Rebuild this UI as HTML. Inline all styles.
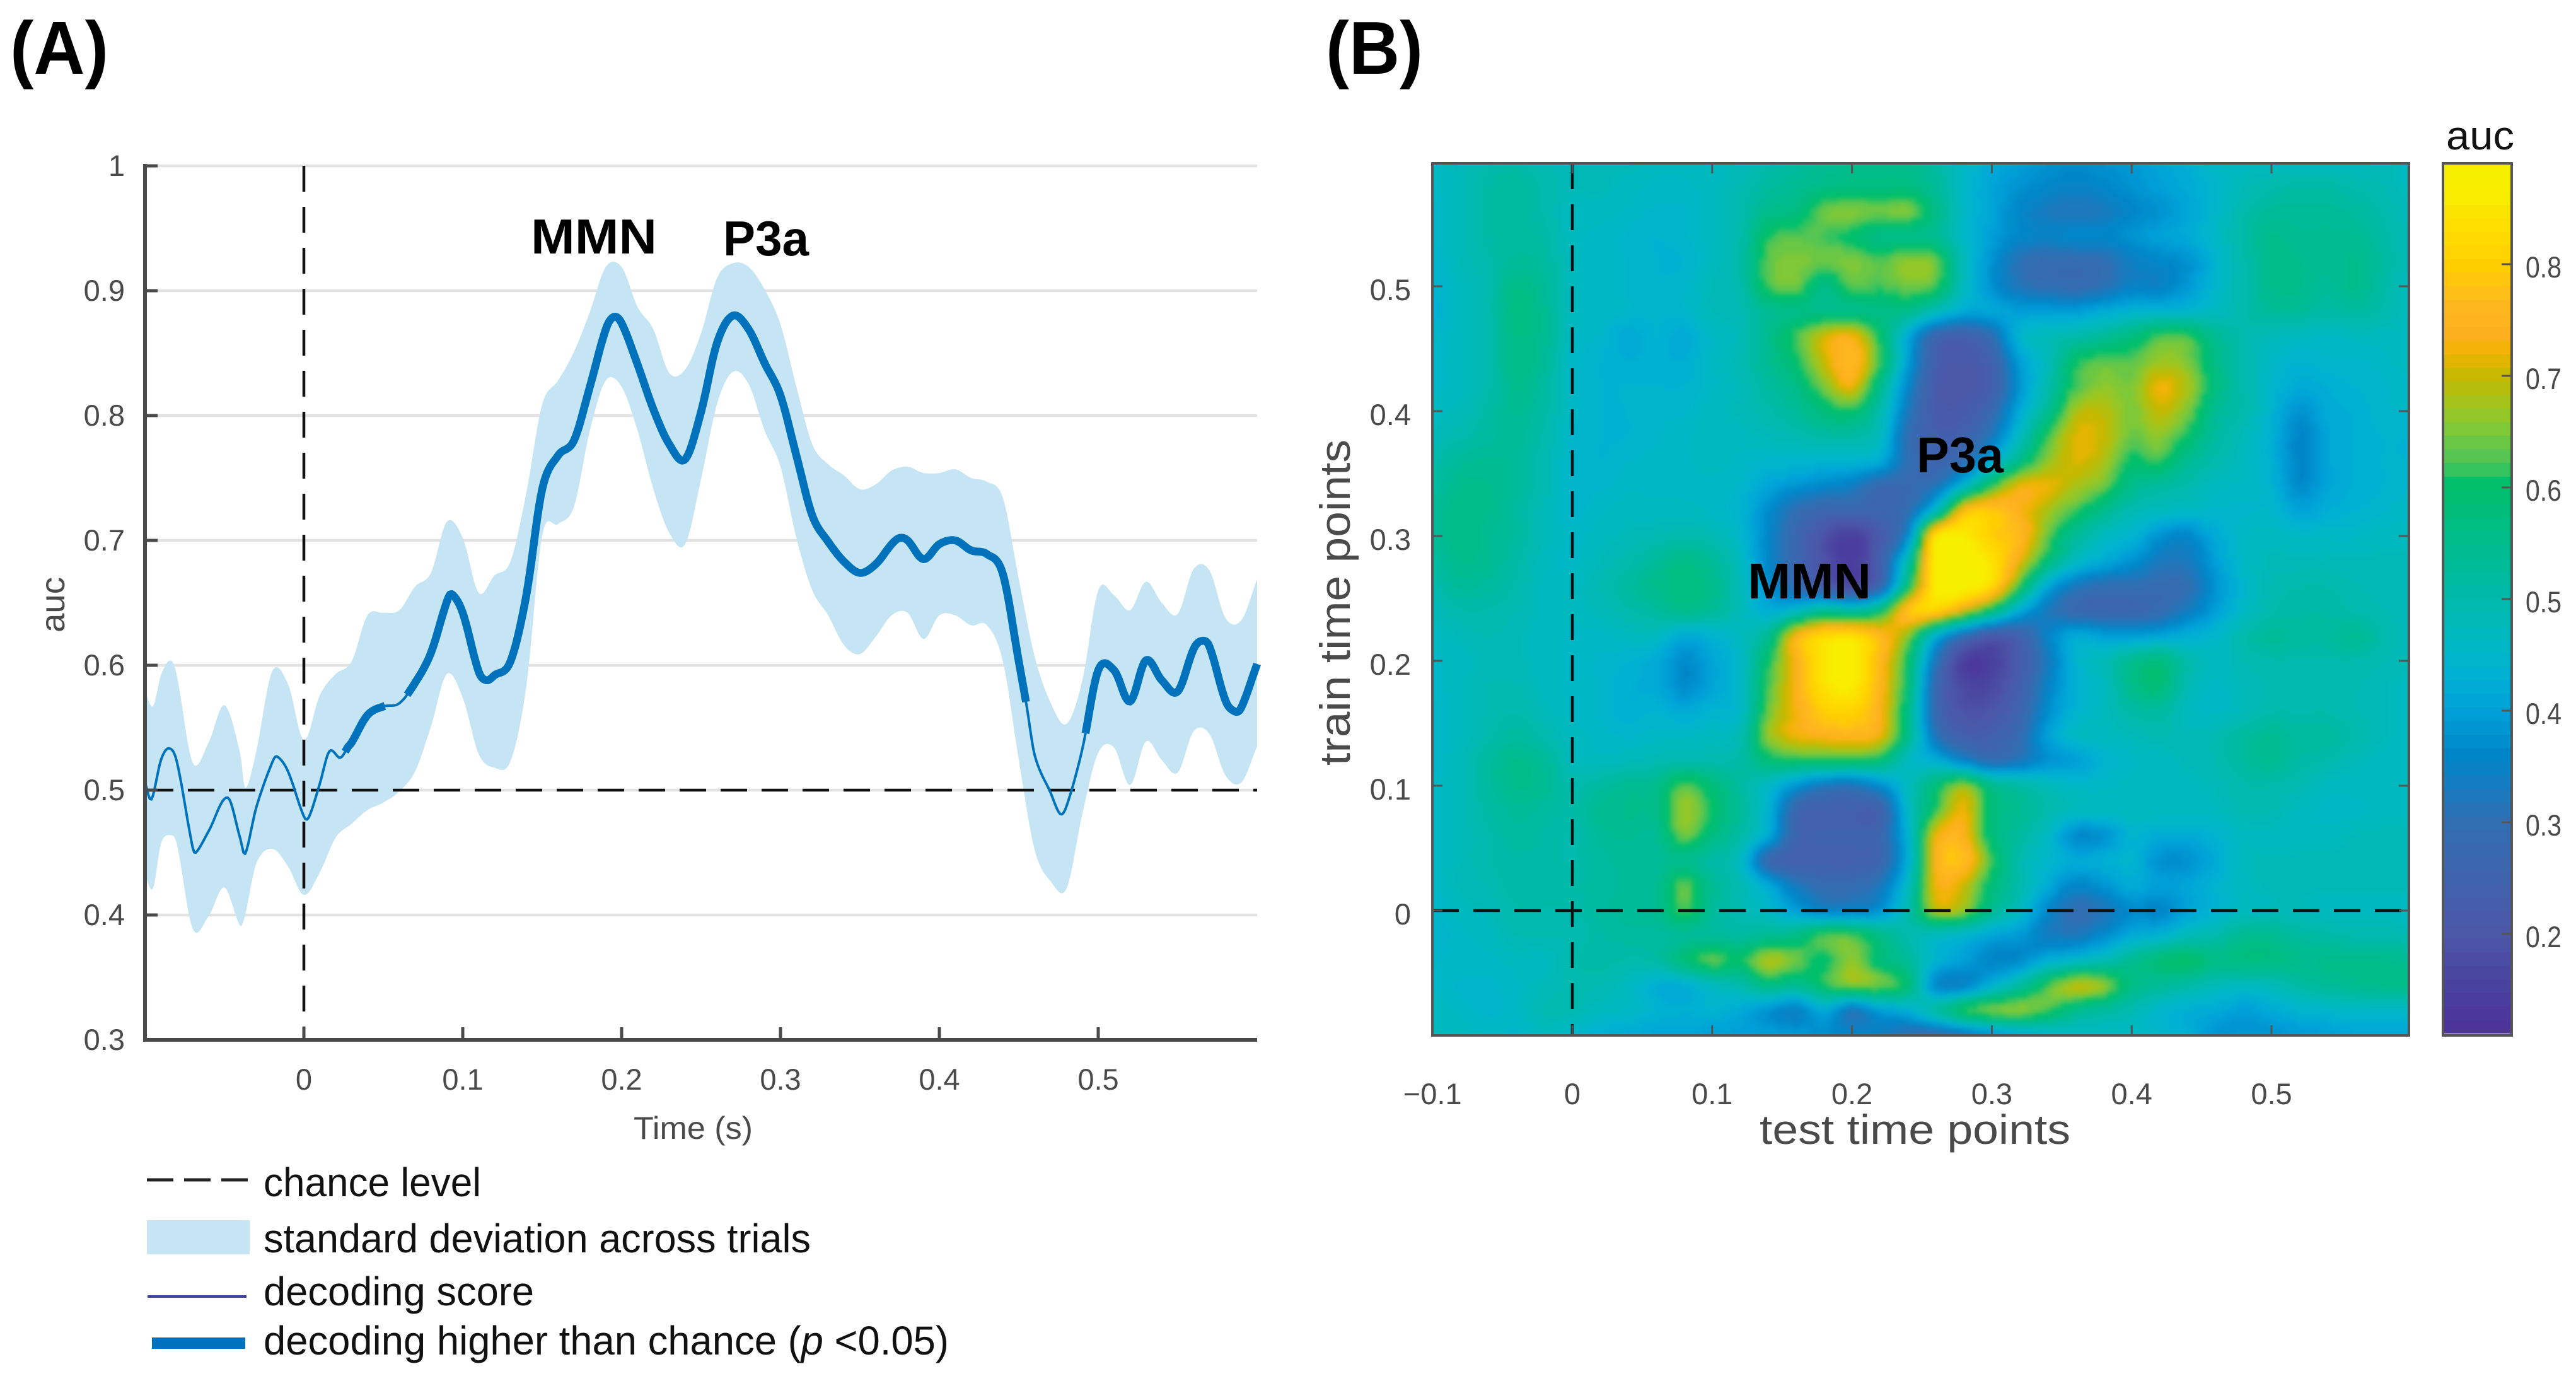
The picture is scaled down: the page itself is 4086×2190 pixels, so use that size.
<!DOCTYPE html>
<html lang="en">
<head>
<meta charset="utf-8">
<title>Decoding score and temporal generalization</title>
<style>
html,body{margin:0;padding:0;background:#fff}
svg{display:block}
text{font-family:"Liberation Sans",sans-serif}
.tk{font-size:47px;fill:#4a4a4a}
.lg{font-size:64px;fill:#111}
.bd{font-weight:700;fill:#000}
</style>
</head>
<body>
<svg id="fig" xmlns="http://www.w3.org/2000/svg" width="4086" height="2190" viewBox="0 0 4086 2190">
<defs>
<clipPath id="hmclip"><rect x="2272" y="259" width="1549" height="1383"/></clipPath>
<filter id="soft" x="2200" y="190" width="1700" height="1530" filterUnits="userSpaceOnUse" color-interpolation-filters="sRGB"><feGaussianBlur stdDeviation="4"/></filter>
</defs>
<rect x="0" y="0" width="4086" height="2190" fill="#fff"/>
<text class="bd" x="16" y="117" font-size="119" textLength="156" lengthAdjust="spacingAndGlyphs">(A)</text>
<text class="bd" x="2103" y="117" font-size="119" textLength="154" lengthAdjust="spacingAndGlyphs">(B)</text>

<g id="panelA">
<g id="gridA"></g>
<path id="band" fill="#c5e5f4"/>
<line id="chanceH" stroke="#111" stroke-width="4.5" stroke-dasharray="42 23"/>
<path id="thin" fill="none" stroke="#0072bc" stroke-width="4" stroke-linejoin="round"/>
<g id="thick"></g>
<line id="onsetA" stroke="#111" stroke-width="4.5" stroke-dasharray="41 24"/>
<g id="axesA"></g>
<text transform="translate(102,1003) rotate(-90)" font-size="54" fill="#4a4a4a" textLength="88" lengthAdjust="spacingAndGlyphs">auc</text>
<text x="1005" y="1806" font-size="50" fill="#4a4a4a" textLength="189" lengthAdjust="spacingAndGlyphs">Time (s)</text>
<text class="bd" x="842" y="402" font-size="78" textLength="200" lengthAdjust="spacingAndGlyphs">MMN</text>
<text class="bd" x="1147" y="405" font-size="78" textLength="136" lengthAdjust="spacingAndGlyphs">P3a</text>
</g>

<g>
<line x1="233" y1="1871" x2="393" y2="1871" stroke="#222" stroke-width="5" stroke-dasharray="42 17"/>
<text class="lg" x="418" y="1897" textLength="345" lengthAdjust="spacingAndGlyphs">chance level</text>
<rect x="233" y="1935" width="163" height="54" fill="#c5e5f4"/>
<text class="lg" x="418" y="1986" textLength="868" lengthAdjust="spacingAndGlyphs">standard deviation across trials</text>
<rect x="234" y="2054" width="157" height="4" fill="#3b3f9e"/>
<text class="lg" x="418" y="2070" textLength="429" lengthAdjust="spacingAndGlyphs">decoding score</text>
<rect x="241" y="2121" width="148" height="18" fill="#0072bc"/>
<text class="lg" x="418" y="2148" textLength="1087" lengthAdjust="spacingAndGlyphs">decoding higher than chance (<tspan font-style="italic">p</tspan> &lt;0.05)</text>
</g>

<g id="panelB">
<g clip-path="url(#hmclip)"><g id="cells" filter="url(#soft)" shape-rendering="crispEdges"></g></g>
<line id="onsetH" stroke="#111" stroke-width="4.5" stroke-dasharray="41 24"/>
<line id="onsetV" stroke="#111" stroke-width="4.5" stroke-dasharray="42 23"/>
<rect x="2272" y="259" width="1549" height="1383" fill="none" stroke="#555" stroke-width="4"/>
<g id="axesB"></g>
<text x="2791" y="1814" font-size="66" fill="#4a4a4a" textLength="493" lengthAdjust="spacingAndGlyphs">test time points</text>
<text transform="translate(2141,1214) rotate(-90)" font-size="68" fill="#4a4a4a" textLength="517" lengthAdjust="spacingAndGlyphs">train time points</text>
<text class="bd" x="2772" y="949" font-size="80" textLength="196" lengthAdjust="spacingAndGlyphs">MMN</text>
<text class="bd" x="3040" y="749" font-size="80" textLength="138" lengthAdjust="spacingAndGlyphs">P3a</text>
<g id="cbar" shape-rendering="crispEdges"></g>
<rect x="3875" y="259" width="109" height="1383" fill="none" stroke="#555" stroke-width="4"/>
<g id="cbarTicks"></g>
<text x="3880" y="237" font-size="64" fill="#111" textLength="108" lengthAdjust="spacingAndGlyphs">auc</text>
</g>
</svg>

<script>
// ---------- Panel A data ----------
const yTicksA = [0.3, 0.4, 0.5, 0.6, 0.7, 0.8, 0.9, 1];
const yTickLabelsA = ['0.3', '0.4', '0.5', '0.6', '0.7', '0.8', '0.9', '1'];
const xTicksA = [0, 0.1, 0.2, 0.3, 0.4, 0.5];
const xTickLabelsA = ['0', '0.1', '0.2', '0.3', '0.4', '0.5'];
const scoreTimes = [-0.1,-0.096,-0.09,-0.085,-0.08,-0.07,-0.068,-0.06,-0.048,-0.04,-0.037,-0.03,-0.02,-0.017,-0.01,0,0.003,0.01,0.016,0.023,0.028,0.03,0.04,0.05,0.06,0.07,0.08,0.09,0.093,0.1,0.11,0.115,0.12,0.13,0.14,0.15,0.16,0.17,0.18,0.19,0.195,0.2,0.21,0.22,0.23,0.24,0.25,0.26,0.27,0.28,0.29,0.3,0.31,0.32,0.33,0.34,0.35,0.36,0.37,0.375,0.38,0.39,0.4,0.41,0.42,0.43,0.44,0.45,0.455,0.46,0.47,0.476,0.48,0.49,0.5,0.51,0.52,0.53,0.54,0.55,0.56,0.565,0.57,0.58,0.586,0.59,0.6];
const scores = [0.506,0.4926,0.524,0.5335,0.523,0.454,0.45,0.467,0.494,0.461,0.449,0.486,0.522,0.527,0.515,0.479,0.478,0.505,0.531,0.526,0.535,0.538,0.56,0.567,0.5695,0.586,0.61,0.651,0.657,0.642,0.595,0.588,0.592,0.603,0.656,0.741,0.768,0.78,0.823,0.869,0.879,0.874,0.841,0.805,0.777,0.765,0.803,0.858,0.88,0.869,0.842,0.816,0.768,0.72,0.699,0.683,0.674,0.681,0.697,0.702,0.7,0.685,0.697,0.7,0.692,0.689,0.673,0.603,0.567,0.528,0.498,0.481,0.487,0.533,0.596,0.596,0.571,0.604,0.588,0.579,0.613,0.6195,0.615,0.572,0.563,0.566,0.601];
const bandTimes = [-0.1,-0.095,-0.09,-0.084,-0.08,-0.07,-0.06,-0.05,-0.04,-0.037,-0.03,-0.02,-0.01,0,0.01,0.02,0.03,0.04,0.05,0.06,0.07,0.08,0.09,0.1,0.11,0.12,0.13,0.14,0.15,0.16,0.17,0.18,0.19,0.2,0.21,0.22,0.23,0.24,0.25,0.26,0.27,0.28,0.29,0.3,0.31,0.32,0.33,0.34,0.35,0.36,0.37,0.38,0.39,0.4,0.41,0.42,0.43,0.44,0.45,0.46,0.47,0.48,0.49,0.5,0.51,0.52,0.53,0.54,0.55,0.56,0.57,0.58,0.59,0.6];
const bandUpper = [0.579,0.567,0.592,0.604,0.592,0.522,0.538,0.568,0.529,0.5015,0.531,0.595,0.585,0.54,0.576,0.593,0.603,0.64,0.642,0.644,0.663,0.674,0.715,0.702,0.658,0.672,0.683,0.738,0.809,0.828,0.851,0.883,0.919,0.919,0.887,0.869,0.834,0.837,0.866,0.91,0.922,0.919,0.901,0.873,0.823,0.777,0.761,0.752,0.741,0.745,0.756,0.759,0.754,0.754,0.757,0.75,0.747,0.734,0.669,0.607,0.57,0.553,0.588,0.66,0.656,0.644,0.667,0.65,0.641,0.677,0.676,0.638,0.636,0.669];
const bandLower = [0.432,0.421,0.457,0.464,0.457,0.389,0.399,0.422,0.391,0.4,0.441,0.453,0.439,0.416,0.434,0.462,0.473,0.484,0.49,0.499,0.515,0.551,0.593,0.574,0.529,0.518,0.523,0.583,0.704,0.713,0.727,0.788,0.828,0.823,0.788,0.741,0.706,0.697,0.749,0.809,0.835,0.825,0.788,0.759,0.702,0.66,0.64,0.616,0.609,0.623,0.64,0.642,0.621,0.64,0.64,0.632,0.632,0.603,0.524,0.452,0.427,0.421,0.481,0.53,0.534,0.504,0.539,0.524,0.514,0.547,0.545,0.512,0.506,0.535];
const sigStarts = [0.026, 0.065, 0.492];
const sigEnds = [0.051, 0.4545, 0.6];
const chanceLevel = [0.5];
const onsetTime = [0];

// ---------- Panel B data (auc x 100; rows run train .60 down to -.10, columns test -.10 to .60) ----------
const testTimes = [-0.1,-0.08,-0.06,-0.04,-0.02,0,0.02,0.04,0.06,0.08,0.1,0.12,0.14,0.16,0.18,0.2,0.22,0.24,0.26,0.28,0.3,0.32,0.34,0.36,0.38,0.4,0.42,0.44,0.46,0.48,0.5,0.52,0.54,0.56,0.58,0.6];
const trainTimes = [0.6,0.58,0.56,0.54,0.52,0.5,0.48,0.46,0.44,0.42,0.4,0.38,0.36,0.34,0.32,0.3,0.28,0.26,0.24,0.22,0.2,0.18,0.16,0.14,0.12,0.1,0.08,0.06,0.04,0.02,0,-0.02,-0.04,-0.06,-0.08,-0.1];
const aucMatrix = [
[47,48,50,51,49,48,48,48,47,47,47,48,50,52,54,55,56,55,52,46,42,40,38,37,38,39,41,43,46,47,47,47,47,47,48,47],
[46,48,51,52,50,48,48,47,46,46,47,49,52,54,56,57,57,57,53,46,41,38,36,35,36,38,40,42,45,48,50,51,51,50,49,47],
[45,48,51,52,50,47,47,46,45,45,47,50,55,57,64,65,64,65,56,46,41,36,33,32,33,36,38,41,45,50,53,53,53,52,50,48],
[45,48,51,52,51,47,46,45,44,45,47,50,61,63,62,60,56,56,54,46,40,36,35,36,36,38,40,42,46,51,55,54,54,54,51,48],
[44,48,50,53,52,47,46,45,44,44,47,51,63,65,64,65,63,66,64,48,38,31,29,29,30,34,36,38,44,50,55,55,54,55,52,48],
[44,47,50,56,53,47,46,45,44,45,48,50,62,64,56,63,62,64,62,47,38,32,30,29,31,35,35,39,45,50,55,55,53,55,51,47],
[43,47,50,57,54,47,46,45,44,45,48,49,54,56,56,56,56,55,48,42,41,40,40,40,42,44,45,45,47,50,53,53,51,52,50,47],
[45,47,50,56,54,47,45,42,44,42,46,48,55,62,70,73,60,42,27,24,30,44,48,50,53,57,62,62,54,50,48,47,46,47,47,47],
[46,47,50,56,53,46,44,43,43,43,46,49,54,60,70,76,62,40,24,21,25,40,48,60,63,63,67,65,56,50,46,44,45,45,46,47],
[46,47,50,55,52,46,44,44,44,44,46,48,52,56,65,72,55,36,22,20,24,38,50,62,66,65,72,68,57,50,45,42,43,44,45,46],
[47,48,51,54,51,46,44,44,45,45,47,48,50,53,58,60,50,33,22,22,28,42,54,68,69,65,70,65,54,50,44,38,42,43,45,45],
[48,50,52,53,50,45,44,44,45,46,47,47,48,49,51,51,47,30,24,25,33,47,62,71,70,64,66,60,52,48,43,36,41,43,44,44],
[50,53,54,53,49,45,44,45,46,46,47,46,45,45,44,44,42,30,26,30,42,56,66,71,68,60,62,54,50,47,43,36,41,43,44,44],
[52,55,55,53,49,45,45,46,46,46,46,45,41,38,36,34,28,28,32,46,62,72,72,68,64,55,52,50,47,46,44,37,41,43,44,45],
[53,56,55,52,48,45,46,47,47,47,46,44,37,30,26,26,26,30,48,76,79,74,68,62,55,49,47,46,45,45,45,41,43,44,45,46],
[53,56,54,52,48,46,47,48,49,50,49,45,36,27,19,15,22,37,84,86,80,76,64,53,47,44,38,36,42,46,47,46,46,46,47,47],
[52,55,54,51,47,46,48,50,53,56,53,47,36,27,19,14,24,50,87,88,84,72,58,47,42,38,33,33,40,46,48,48,48,48,48,48],
[50,53,52,50,47,47,49,52,55,57,55,48,38,29,23,18,27,58,86,88,82,62,42,33,30,30,29,30,38,45,49,50,50,49,48,48],
[48,50,50,49,47,47,48,50,52,55,53,48,43,47,54,52,58,78,80,70,58,42,33,28,27,27,29,34,40,46,50,51,51,50,49,48],
[47,48,49,48,47,46,46,47,47,42,44,47,54,74,82,83,76,66,44,30,22,25,35,42,40,40,41,43,45,50,53,52,52,54,50,48],
[46,47,48,48,47,46,45,44,42,37,41,46,60,74,85,87,76,60,32,15,15,22,33,44,48,54,57,50,47,49,50,50,50,50,49,48],
[46,47,49,49,47,46,45,43,42,37,41,46,62,74,84,86,75,58,28,17,17,24,35,43,47,55,58,49,46,48,49,49,49,49,48,47],
[45,47,49,50,48,46,45,43,44,42,44,46,64,73,80,81,74,56,28,19,20,26,37,44,47,51,52,47,46,48,50,50,50,49,48,47],
[45,47,50,52,50,47,46,45,46,46,47,49,66,72,74,75,72,55,32,24,24,29,40,46,47,48,49,48,49,52,54,52,52,50,48,47],
[45,48,52,55,53,48,47,48,49,50,50,51,58,60,60,60,58,47,43,36,30,33,38,40,44,46,47,48,49,52,54,51,50,48,47,47],
[46,48,52,55,54,50,52,54,55,63,58,52,46,38,33,32,37,47,58,66,55,51,48,46,46,47,47,47,48,50,50,49,47,47,47,47],
[46,48,51,53,52,51,54,55,56,67,60,53,44,27,24,24,25,46,62,72,58,54,50,47,47,47,47,47,47,49,49,47,46,46,47,47],
[46,48,50,52,51,50,53,54,54,64,57,51,42,26,25,25,27,44,72,74,58,52,46,37,38,44,42,42,44,47,47,47,47,48,48,48],
[46,48,50,51,51,50,52,53,53,55,51,47,28,24,24,24,27,43,74,77,62,50,45,42,43,44,38,38,42,47,48,48,48,48,48,48],
[46,48,49,51,51,51,52,53,54,63,54,49,42,33,29,29,33,47,72,70,58,50,42,36,38,42,40,41,44,47,48,48,48,48,48,48],
[45,47,48,50,50,50,52,53,54,62,53,49,46,40,36,36,38,50,68,66,54,47,36,30,32,37,36,41,44,47,48,48,47,47,47,47],
[44,46,47,49,49,49,51,52,52,53,53,52,54,56,62,62,56,50,47,45,41,39,34,33,37,42,44,48,50,54,54,52,51,50,50,49],
[45,46,46,47,47,50,51,50,51,58,63,60,68,64,60,66,58,53,44,40,36,37,43,46,49,54,58,60,56,57,57,55,55,55,55,54],
[46,45,45,46,48,49,49,47,43,43,47,50,56,54,60,65,64,58,37,36,44,52,62,69,66,56,53,51,48,47,48,51,53,54,55,55],
[47,46,45,46,49,49,47,46,44,43,44,42,38,35,42,33,40,43,51,60,64,65,62,55,52,49,45,43,42,40,42,44,45,46,46,46],
[48,47,46,45,47,45,43,42,41,41,40,40,40,39,37,36,34,30,29,33,38,42,44,46,46,46,45,43,38,38,38,39,40,41,41,41]
];
const xTicksB = [-0.1, 0, 0.1, 0.2, 0.3, 0.4, 0.5];
const xTickLabelsB = ['\u22120.1', '0', '0.1', '0.2', '0.3', '0.4', '0.5'];
const yTicksB = [0, 0.1, 0.2, 0.3, 0.4, 0.5];
const yTickLabelsB = ['0', '0.1', '0.2', '0.3', '0.4', '0.5'];
const cbarTicks = [0.2, 0.3, 0.4, 0.5, 0.6, 0.7, 0.8];
const cbarTickLabels = ['0.2', '0.3', '0.4', '0.5', '0.6', '0.7', '0.8'];
const cbarRange = [0.111, 0.89];
const cmapValues = [0.11,0.16,0.2,0.25,0.3,0.34,0.36,0.4,0.43,0.46,0.5,0.55,0.59,0.605,0.62,0.65,0.67,0.7,0.72,0.74,0.77,0.8,0.83,0.86,0.89];
const cmapColors = [[77,49,151],[74,68,160],[76,87,168],[63,99,173],[50,110,178],[15,127,194],[0,134,200],[0,160,216],[0,176,212],[0,184,196],[0,186,172],[0,188,140],[0,191,114],[0,192,105],[72,196,90],[122,200,58],[156,198,32],[196,184,0],[240,180,0],[253,176,32],[255,187,28],[255,207,0],[255,220,0],[248,236,0],[245,240,0]];

const NS = 'http://www.w3.org/2000/svg';
const make = (parent, tag, attrs) => {
  const n = document.createElementNS(NS, tag);
  for (const k in attrs) n.setAttribute(k, attrs[k]);
  parent.appendChild(n);
  return n;
};
const byId = id => document.getElementById(id);

// axis functions
const xA = t => 482 + 2520 * t;
const yA = v => 1253 - 1980 * (v - 0.5);
const xB = t => 2494 + 2218 * t;
const yB = v => 1444 - 1980 * v;
const yC = v => 419 + (0.8 - v) * 1770;

// piecewise cubic Hermite through irregular samples
function hermite(ts, vs, t) {
  const n = ts.length;
  if (t <= ts[0]) return vs[0];
  if (t >= ts[n - 1]) return vs[n - 1];
  let i = 0;
  while (ts[i + 1] < t) i++;
  const slope = k => k <= 0 ? (vs[1] - vs[0]) / (ts[1] - ts[0]) : k >= n - 1 ? (vs[n - 1] - vs[n - 2]) / (ts[n - 1] - ts[n - 2]) : (vs[k + 1] - vs[k - 1]) / (ts[k + 1] - ts[k - 1]);
  const h = ts[i + 1] - ts[i], u = (t - ts[i]) / h;
  const u2 = u * u, u3 = u2 * u;
  return (2 * u3 - 3 * u2 + 1) * vs[i] + (u3 - 2 * u2 + u) * h * slope(i) + (-2 * u3 + 3 * u2) * vs[i + 1] + (u3 - u2) * h * slope(i + 1);
}
function sampled(ts, vs, a, b, step) {
  const pts = [];
  for (let t = a; t < b; t += step) pts.push([xA(t), yA(hermite(ts, vs, t))]);
  pts.push([xA(b), yA(hermite(ts, vs, b))]);
  return pts;
}
const toPath = pts => 'M' + pts.map(p => p[0].toFixed(1) + ' ' + p[1].toFixed(1)).join('L');

// ---------- Panel A ----------
const gridA = byId('gridA');
yTicksA.forEach(v => {
  if (v <= 0.3) return;
  const gl = make(gridA, 'line', {x1: 250, x2: 1994, y1: yA(v), y2: yA(v), stroke: '#e2e2e2', 'stroke-width': 4.5});
  
  
});

const tMin = bandTimes[0], tMax = bandTimes[bandTimes.length - 1];
const upperPts = sampled(bandTimes, bandUpper, tMin, tMax, 0.001);
const lowerPts = sampled(bandTimes, bandLower, tMin, tMax, 0.001).reverse();
byId('band').setAttribute('d', toPath(upperPts.concat(lowerPts)) + 'Z');

const chanceH = byId('chanceH');
chanceH.setAttribute('x1', 233);
chanceH.setAttribute('x2', xA(tMax));
chanceH.setAttribute('y1', yA(chanceLevel[0]));
chanceH.setAttribute('y2', yA(chanceLevel[0]));

byId('thin').setAttribute('d', toPath(sampled(scoreTimes, scores, scoreTimes[0], scoreTimes[scoreTimes.length - 1], 0.001)));
sigStarts.forEach((s, i) => {
  const seg = make(byId('thick'), 'path', {d: toPath(sampled(scoreTimes, scores, s, sigEnds[i], 0.001)), fill: 'none', stroke: '#0072bc', 'stroke-width': 12.5, 'stroke-linejoin': 'round'});
  
  
});

const onsetA = byId('onsetA');
onsetA.setAttribute('x1', xA(onsetTime[0]));
onsetA.setAttribute('x2', xA(onsetTime[0]));
onsetA.setAttribute('y1', yA(1));
onsetA.setAttribute('y2', yA(0.3));

const axesA = byId('axesA');
const axisColor = '#4a4a4a';
const yAxisLine = make(axesA, 'line', {x1: 230, x2: 230, y1: yA(1) - 3, y2: yA(0.3) + 3, stroke: axisColor, 'stroke-width': 6});


const xAxisLine = make(axesA, 'line', {x1: 227, x2: 1994, y1: yA(0.3), y2: yA(0.3), stroke: axisColor, 'stroke-width': 6});


yTicksA.forEach((v, i) => {
  const tick = make(axesA, 'line', {x1: 230, x2: 250, y1: yA(v), y2: yA(v), stroke: axisColor, 'stroke-width': 5});
  
  
  const lab = make(axesA, 'text', {x: 198, y: yA(v) + 16, 'text-anchor': 'end', class: 'tk'});
  lab.textContent = yTickLabelsA[i];
  
  
});
xTicksA.forEach((v, i) => {
  const tick = make(axesA, 'line', {x1: xA(v), x2: xA(v), y1: yA(0.3), y2: yA(0.3) - 20, stroke: axisColor, 'stroke-width': 5});
  
  
  const lab = make(axesA, 'text', {x: xA(v), y: 1728, 'text-anchor': 'middle', class: 'tk'});
  lab.textContent = xTickLabelsA[i];
  
  
});

// ---------- Panel B ----------
function colorFor(v) {
  const levels = 64;
  const f = Math.max(0, Math.min(1, (v - cbarRange[0]) / (cbarRange[1] - cbarRange[0])));
  const q = cbarRange[0] + (Math.min(levels - 1, Math.floor(f * levels)) + 0.5) / levels * (cbarRange[1] - cbarRange[0]);
  let i = 0;
  while (i < cmapValues.length - 2 && cmapValues[i + 1] < q) i++;
  const u = Math.max(0, Math.min(1, (q - cmapValues[i]) / (cmapValues[i + 1] - cmapValues[i])));
  const c = cmapColors[i].map((a, k) => Math.round(a + (cmapColors[i + 1][k] - a) * u));
  return 'rgb(' + c.join(',') + ')';
}
const catmull = (a, b, c, d, u) => 0.5 * (2 * b + (c - a) * u + (2 * a - 5 * b + 4 * c - d) * u * u + (3 * b - a - 3 * c + d) * u * u * u);
function matrixAt(fr, fc) {
  const R = aucMatrix.length - 1, C = aucMatrix[0].length - 1;
  const r = Math.min(R - 1, Math.floor(fr)), c = Math.min(C - 1, Math.floor(fc));
  const ur = fr - r, uc = fc - c;
  const rowVal = k => {
    const row = aucMatrix[Math.max(0, Math.min(R, k))];
    const at = j => row[Math.max(0, Math.min(C, j))];
    return catmull(at(c - 1), at(c), at(c + 1), at(c + 2), uc);
  };
  return catmull(rowVal(r - 1), rowVal(r), rowVal(r + 1), rowVal(r + 2), ur) / 100;
}
const upsample = 5;
const cellsGroup = byId('cells');
const cellFrag = document.createDocumentFragment();
const nR = (aucMatrix.length - 1) * upsample, nC = (aucMatrix[0].length - 1) * upsample;
const dtCol = (testTimes[1] - testTimes[0]) / upsample, dtRow = (trainTimes[0] - trainTimes[1]) / upsample;
for (let r = 0; r <= nR; r++) {
  for (let c = 0; c <= nC; c++) {
    const tc = testTimes[0] + (c - 0.5) * dtCol;
    const tr = trainTimes[0] - (r - 0.5) * dtRow;
    const cell = document.createElementNS(NS, 'rect');
    cell.setAttribute('x', xB(tc).toFixed(1));
    cell.setAttribute('y', yB(tr).toFixed(1));
    cell.setAttribute('width', (xB(tc + dtCol) - xB(tc) + 0.6).toFixed(1));
    cell.setAttribute('height', (yB(tr - dtRow) - yB(tr) + 0.6).toFixed(1));
    cell.setAttribute('fill', colorFor(matrixAt(r / upsample, c / upsample)));
    
    
    cellFrag.appendChild(cell);
  }
}
cellsGroup.appendChild(cellFrag);

const onsetH = byId('onsetH');
onsetH.setAttribute('x1', xB(0));
onsetH.setAttribute('x2', xB(0));
onsetH.setAttribute('y1', 259);
onsetH.setAttribute('y2', 1642);
const onsetV = byId('onsetV');
onsetV.setAttribute('x1', 2272);
onsetV.setAttribute('x2', 3821);
onsetV.setAttribute('y1', yB(0));
onsetV.setAttribute('y2', yB(0));

const axesB = byId('axesB');
const frameTick = '#555';
xTicksB.forEach((v, i) => {
  if (v > -0.1) {
    const t1 = make(axesB, 'line', {x1: xB(v), x2: xB(v), y1: 259, y2: 275, stroke: frameTick, 'stroke-width': 3});
    
    
    const t2 = make(axesB, 'line', {x1: xB(v), x2: xB(v), y1: 1642, y2: 1626, stroke: frameTick, 'stroke-width': 3});
    
    
  }
  const lab = make(axesB, 'text', {x: xB(v), y: 1751, 'text-anchor': 'middle', class: 'tk'});
  lab.textContent = xTickLabelsB[i];
  
  
});
yTicksB.forEach((v, i) => {
  const t1 = make(axesB, 'line', {x1: 2272, x2: 2288, y1: yB(v), y2: yB(v), stroke: frameTick, 'stroke-width': 3});
  
  
  const t2 = make(axesB, 'line', {x1: 3821, x2: 3805, y1: yB(v), y2: yB(v), stroke: frameTick, 'stroke-width': 3});
  
  
  const lab = make(axesB, 'text', {x: 2238, y: yB(v) + 22, 'text-anchor': 'end', class: 'tk'});
  lab.textContent = yTickLabelsB[i];
  
  
});

// colorbar
const cbar = byId('cbar');
const cbSteps = 64;
for (let i = 0; i < cbSteps; i++) {
  const v0 = cbarRange[0] + (cbarRange[1] - cbarRange[0]) * i / cbSteps;
  const v1 = cbarRange[0] + (cbarRange[1] - cbarRange[0]) * (i + 1) / cbSteps;
  const seg = make(cbar, 'rect', {x: 3875, y: yC(v1).toFixed(1), width: 109, height: (yC(v0) - yC(v1) + 0.6).toFixed(1), fill: colorFor((v0 + v1) / 2)});
  
  
}
const cbarTickGroup = byId('cbarTicks');
cbarTicks.forEach((v, i) => {
  const t = make(cbarTickGroup, 'line', {x1: 3968, x2: 3984, y1: yC(v), y2: yC(v), stroke: frameTick, 'stroke-width': 3});
  
  
  const lab = make(cbarTickGroup, 'text', {x: 4006, y: yC(v) + 21, class: 'tk', textLength: 57, lengthAdjust: 'spacingAndGlyphs'});
  lab.textContent = cbarTickLabels[i];
  
  
});
</script>
</body>
</html>
